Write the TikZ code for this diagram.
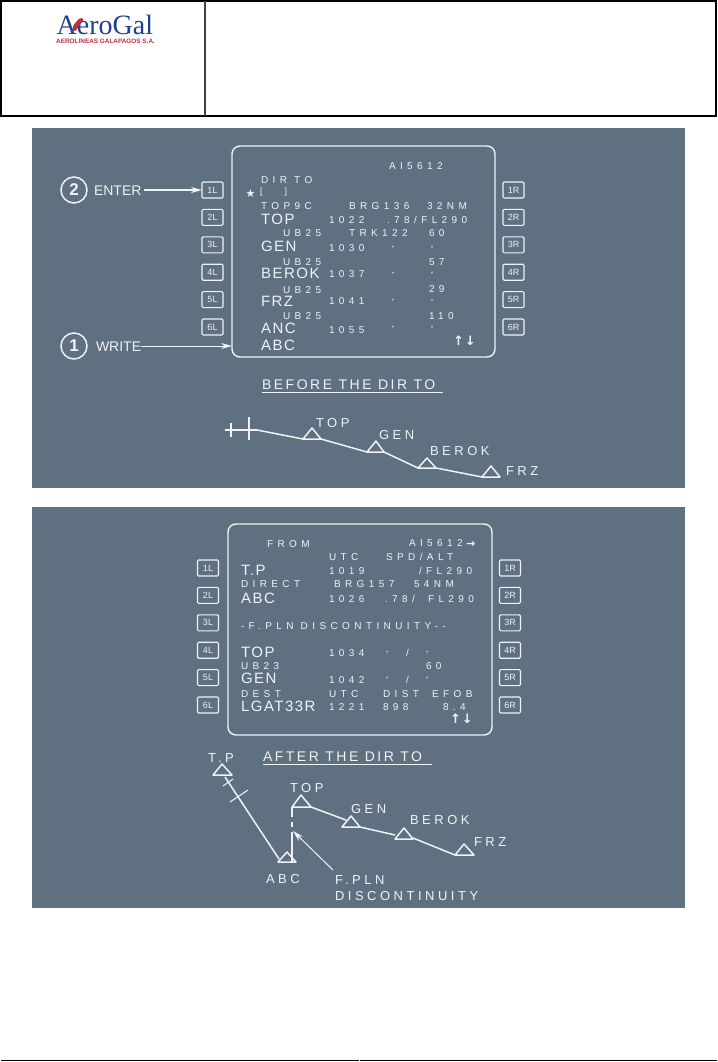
\documentclass[tikz,border=0pt]{standalone}
\usepackage{fontspec}
\usetikzlibrary{arrows.meta}
\setmainfont{Liberation Sans}
\newfontfamily\lsS[LetterSpace=44]{Liberation Sans}
\newfontfamily\lsL[LetterSpace=10]{Liberation Sans}
\newfontfamily\lsR[LetterSpace=27]{Liberation Sans}
\newfontfamily\lsT[LetterSpace=18]{Liberation Sans}
\newfontfamily\djv{DejaVu Sans}
\newfontfamily\logoserif{Liberation Serif}
\definecolor{panel}{HTML}{5F7080}
\definecolor{ink}{HTML}{F0F2F4}
\definecolor{logoblue}{HTML}{1F3F94}
\definecolor{logored}{HTML}{BE3040}
\newcounter{tn}
\newcommand\Sm[3]{\stepcounter{tn}\node[txt,font=\lsS\fontsize{10}{10}\selectfont] (s\arabic{tn}) at (#1,#2) {#3};}
\newcommand\Lg[3]{\stepcounter{tn}\node[txt,font=\lsL\fontsize{15}{15}\selectfont] (l\arabic{tn}) at (#1,#2) {#3};}
\newcommand\Rt[3]{\stepcounter{tn}\node[txt,font=\lsR\fontsize{13}{13}\selectfont] (r\arabic{tn}) at (#1,#2) {#3};}
\newcommand\Qm[2]{\stepcounter{tn}\node[txt,anchor=base,font=\fontsize{7.5}{7.5}\selectfont] (q\arabic{tn}) at (#1,#2+1) {"};}
% triangle: name, apex x, apex y, left x, right x, base y
\newcommand\Tri[6]{\coordinate (#1-l) at (#4,#6);\coordinate (#1-r) at (#5,#6);\coordinate (#1-a) at (#2,#3);
  \draw[route,line join=round] (#1-l) -- (#1-a) -- (#1-r) -- cycle;}
\tikzset{
  txt/.style={anchor=base west,inner sep=0pt,outer sep=0pt,text=ink},
  route/.style={draw=ink,line width=1.5pt},
  btn/.style={draw=ink,line width=1.1pt,rounded corners=1.2pt,minimum width=21pt,minimum height=16pt,inner sep=0pt,outer sep=0pt,text=ink,font=\fontsize{9}{9}\selectfont},
  bezel/.style={draw=ink,line width=1.4pt,rounded corners=8pt,inner sep=0pt,outer sep=0pt},
  numcirc/.style={circle,draw=ink,line width=1.5pt,minimum size=26pt,inner sep=0pt,outer sep=0pt,text=ink,font=\bfseries\fontsize{17}{17}\selectfont},
  bigword/.style={anchor=base west,inner sep=0pt,outer sep=0pt,text=ink,font=\fontsize{14}{14}\selectfont},
  headline/.style={anchor=base west,inner sep=0pt,outer sep=0pt,text=ink,font=\lsT\fontsize{14}{14}\selectfont},
  tip/.style={-{Stealth[length=11pt,width=6pt]}},
}
\begin{document}
\begin{tikzpicture}[x=1pt,y=-1pt]
\useasboundingbox (0,0) rectangle (717,1062);
\fill[white] (0,0) rectangle (717,1062);
% header frame
\draw[black,line width=2pt] (1,1) rectangle (716,116.5);
\draw[black!75,line width=1.5pt] (205,1) -- (205,116.5);
% footer rule
\draw[black,line width=1.6pt] (1,1060.5) -- (358.5,1060.5);
\draw[black,line width=1.6pt] (359.5,1060.5) -- (717,1060.5);
% logo
\node[anchor=base west,inner sep=0pt,text=logoblue,font=\logoserif\fontsize{28}{28}\selectfont] (logo) at (56.5,35) {AeroGal};
\fill[logored] (73,31) .. controls (72,25) and (75,23) .. (77,21) .. controls (78,19) and (80,18) .. (82,18)
  .. controls (84,19) and (84,21) .. (82,22) .. controls (81,25) and (79,24) .. (78,27) .. controls (77,30) and (75,32) .. (73,31) -- cycle;
\node[anchor=base west,inner sep=0pt,text=logored,font=\bfseries\fontsize{6.4}{6.4}\selectfont] (logosub) at (56,44) {AEROLINEAS GALAPAGOS S.A.};
% panels
\fill[panel] (32,128) rectangle (685,488);
\fill[panel] (32,507) rectangle (685,908);

% ---------- first screen
\node[bezel,minimum width=263pt,minimum height=211pt] (bez1) at (363.5,251.5) {};
\foreach \i in {1,...,6}{
  \node[btn] (a\i L) at (212.5,{190+27.4*(\i-1)}) {\i L};
  \node[btn] (a\i R) at (513.5,{190+27.4*(\i-1)}) {\i R};
}
\Sm{389}{169}{AI5612}
\Sm{261}{183}{DIR TO}
\node[txt,font=\djv\fontsize{11}{11}\selectfont] (star1) at (245.5,197) {★};
\node[txt,font=\fontsize{9}{9}\selectfont] (brk1) at (260,194) {[\hspace{22pt}]};
\Sm{261}{209}{TOP9C}
\Sm{349}{209}{BRG136}
\Sm{427}{209}{32NM}
\Lg{261}{224}{TOP}
\Sm{329}{223}{1022}
\Sm{387}{223}{.78/FL290}
\Sm{283}{236}{UB25}
\Sm{349}{236}{TRK122}
\Sm{429}{236}{60}
\Lg{261}{251}{GEN}
\Sm{329}{251}{1030}
\Qm{393}{250}\Qm{432}{250}
\Sm{283}{265}{UB25}
\Sm{429}{265}{57}
\Lg{261}{278}{BEROK}
\Sm{329}{277}{1037}
\Qm{393}{276}\Qm{432}{276}
\Sm{283}{293}{UB25}
\Sm{429}{292}{29}
\Lg{261}{306}{FRZ}
\Sm{329}{304}{1041}
\Qm{393}{303}\Qm{432}{303}
\Sm{283}{319}{UB25}
\Sm{429}{319}{110}
\Lg{261}{333}{ANC}
\Sm{329}{333}{1055}
\Qm{393}{330}\Qm{432}{330}
\Lg{261}{350}{ABC}
\node[txt,font=\djv\bfseries\fontsize{13}{13}\selectfont] (ud1) at (453,345.5) {↑\hspace{1pt}↓};
% callouts
\node[numcirc] (c2) at (74,190) {2};
\node[bigword] (enter) at (94,195) {ENTER};
\draw[ink,line width=1.8pt,tip] (enter.east |- a1L.west) ++(3,0) -- (a1L.west);
\node[numcirc] (c1) at (74,346) {1};
\node[bigword] (write) at (96,351) {WRITE};
\coordinate (w2) at (bez1.west |- c1);
\draw[ink,line width=.8pt,tip] (write.east |- c1) -- (w2);
% before title
\node[headline] (beftitle) at (262,389) {BEFORE THE DIR TO};
\draw[ink,line width=.8pt] (beftitle.base west) ++(0,3) -- ++(181,0);
% before route
\coordinate (pl) at (225,430);\coordinate (pn) at (257,430);
\draw[route,line width=1.8pt] (pl) -- (pn);
\draw[route,line width=1.8pt] (249,417) -- (249,440);
\draw[route,line width=1.8pt] (231,423) -- (231,437);
\Tri{b1}{312}{428}{303}{321}{439}
\Tri{b2}{376}{441}{367}{384}{452}
\Tri{b3}{427}{458}{418}{436}{468}
\Tri{b4}{491}{466}{482}{500}{477}
\draw[route] (pn) -- (b1-l);
\draw[route] (b1-r) -- (b2-l);
\draw[route] (b2-r) -- (b3-l);
\draw[route] (b3-r) -- (b4-l);
\Rt{316}{427}{TOP}
\Rt{379}{439}{GEN}
\Rt{430}{455}{BEROK}
\Rt{506}{475}{FRZ}

% ---------- second screen
\node[bezel,minimum width=264pt,minimum height=211pt] (bez2) at (360,629.5) {};
\foreach \i in {1,...,6}{
  \node[btn] (d\i L) at (208,{568+27.4*(\i-1)}) {\i L};
  \node[btn] (d\i R) at (510,{568+27.4*(\i-1)}) {\i R};
}
\Sm{267}{547}{FROM}
\Sm{409}{546}{AI5612}
\node[txt,font=\djv\bfseries\fontsize{11}{11}\selectfont] (ar2) at (466,547) {→};
\Sm{329}{560}{UTC}
\Sm{386}{560}{SPD/ALT}
\Lg{241}{575}{T.P}
\Sm{329}{574}{1019}
\Sm{419}{574}{/FL290}
\Sm{241}{587}{DIRECT}
\Sm{334}{587}{BRG157}
\Sm{414}{587}{54NM}
\Lg{241}{603}{ABC}
\Sm{329}{602}{1026}
\Sm{385}{602}{.78/}
\Sm{428}{602}{FL290}
\Sm{241}{629}{-F.PLN DISCONTINUITY--}
\Lg{241}{657}{TOP}
\Sm{329}{656}{1034}
\Qm{387}{655}\Sm{406}{656}{/}\Qm{427}{655}
\Sm{241}{669}{UB23}
\Sm{426}{669}{60}
\Lg{241}{683}{GEN}
\Sm{329}{683}{1042}
\Qm{387}{681}\Sm{406}{683}{/}\Qm{427}{681}
\Sm{241}{697}{DEST}
\Sm{329}{697}{UTC}
\Sm{383}{697}{DIST}
\Sm{432}{697}{EFOB}
\Lg{241}{711}{LGAT33R}
\Sm{329}{710}{1221}
\Sm{383}{710}{898}
\Sm{443}{710}{8.4}
\node[txt,font=\djv\bfseries\fontsize{13}{13}\selectfont] (ud2) at (450,723.5) {↑\hspace{1pt}↓};
% after title
\node[headline] (afttitle) at (263,761) {AFTER THE DIR TO};
\draw[ink,line width=1pt] (afttitle.base west) ++(0,3) -- ++(169,0);
% after route
\Tri{t0}{222}{764}{213}{232}{775}
\Tri{t1}{287}{852}{278}{296}{862}
\Tri{t2}{301}{795}{292}{311}{807}
\Tri{t3}{351}{816}{342}{360}{827}
\Tri{t4}{404}{828}{395}{413}{839}
\Tri{t5}{464}{844}{455}{474}{855}
\coordinate (tp1) at (225,777);\coordinate (tp2) at (279,859);
\draw[route] (tp1) -- (tp2);
\draw[route,line width=1pt] (223,786) -- (233,779);
\draw[route,line width=1pt] (230,802) -- (248,790);
\draw[route] (t2-l) -- (292,817);
\draw[route] (292,822) -- (292,827);
\draw[route] (292,832) -- (t1-r -| t2-l);
\draw[route] (311,807) -- (346,820);
\draw[route] (t3-r) -- (395,835);
\draw[route] (413,838) -- (t5-l);
\Rt{208}{762}{T.P}
\Rt{266}{883}{ABC}
\Rt{290}{792}{TOP}
\Rt{351}{813}{GEN}
\Rt{410}{824}{BEROK}
\Rt{474}{846}{FRZ}
\Rt{335}{884}{F.PLN}
\Rt{335}{900}{DISCONTINUITY}
\coordinate (fp1) at (333,870);\coordinate (fp2) at (293,831);
\draw[ink,line width=1pt,tip] (fp1) -- (fp2);
\end{tikzpicture}
\end{document}
